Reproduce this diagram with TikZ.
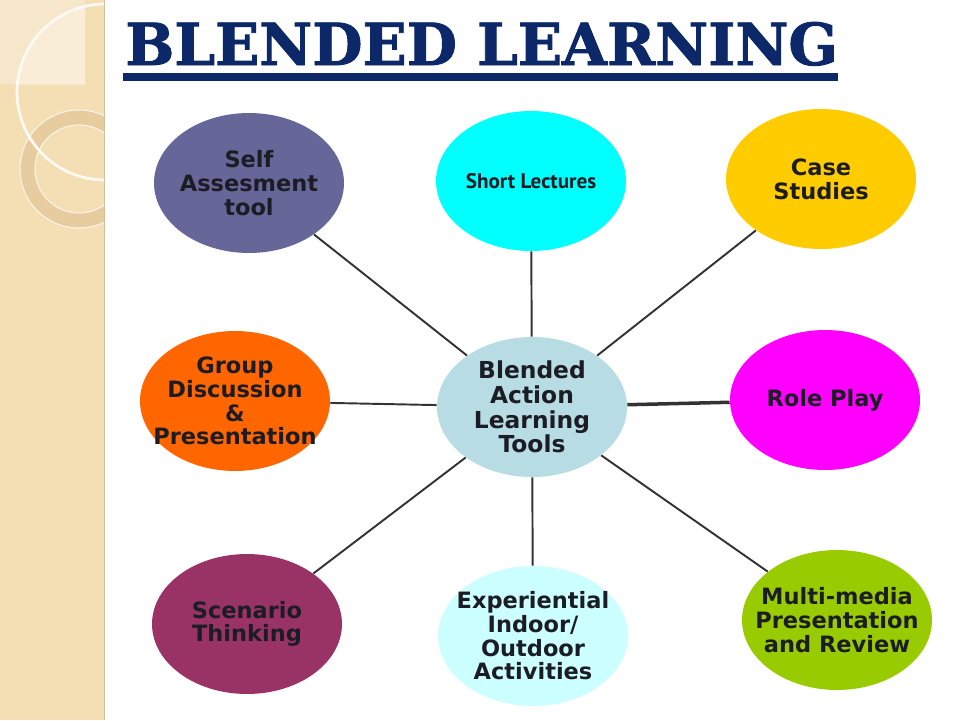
\documentclass[tikz,border=0pt]{standalone}
\usepackage{fontspec}
\setmainfont{DejaVu Sans}
\newfontfamily\titlefont[BoldFeatures={FakeBold=1.5}]{DejaVu Serif}
\newfontfamily\lecfont{PT Sans}
\usetikzlibrary{shapes.geometric}
\definecolor{strip}{HTML}{F4DEB4}
\definecolor{stripedge}{HTML}{CDBF9F}
\definecolor{ringcol}{HTML}{E6CC9E}
\definecolor{navy}{HTML}{0C2869}
\definecolor{ink}{HTML}{1C1C24}
\definecolor{linkgray}{HTML}{333333}
\definecolor{selfcol}{HTML}{666699}
\definecolor{shortcol}{HTML}{00FFFF}
\definecolor{casecol}{HTML}{FFCC00}
\definecolor{groupcol}{HTML}{FF6600}
\definecolor{hubcol}{HTML}{B7DCE3}
\definecolor{rolecol}{HTML}{FF00FF}
\definecolor{multicol}{HTML}{99CC00}
\definecolor{scencol}{HTML}{993366}
\definecolor{expcol}{HTML}{CCFFFF}
\begin{document}
\begin{tikzpicture}[x=0.02cm,y=-0.02cm,
  tool/.style={ellipse,minimum width=3.8cm,minimum height=2.8cm,inner sep=-1cm,
    align=center,text=ink,font=\bfseries\fontsize{12.8}{13.5}\selectfont},
  link/.style={draw=linkgray,line width=1.1pt}]
  \useasboundingbox[fill=white] (0,0) rectangle (960,720);
  % side strip
  \fill[strip] (0,0) rectangle (105,720);
  \fill[white,opacity=0.3] (0,0) rectangle (85,84);
  \begin{scope}
    \clip (0,0) rectangle (85,84);
    \fill[white,opacity=0.25] (105,92) circle (88);
  \end{scope}
  \begin{scope}
    \clip (0,0) rectangle (104,720);
    \draw[ringcol,line width=8.5pt] (79,169) circle (51.5);
    \draw[white!70!strip,line width=0.6pt] (79,169) circle (59) (79,169) circle (44);
    \draw[white!85!strip,line width=1.6pt] (105,92) circle (88);
  \end{scope}
  \draw[stripedge,line width=1pt] (104.5,0) -- (104.5,720);
  % title
  \node[anchor=base west,inner sep=0pt,text=navy,font=\titlefont\bfseries\fontsize{33}{36}\selectfont] (title) at (125,65) {BLENDED LEARNING};
  \draw[navy,line width=4pt] (123,77) -- (838,77);
  % tools
  \node[tool,fill=hubcol,font=\bfseries\fontsize{13.3}{14}\selectfont] (hub) at (532,407) {Blended\\Action\\Learning\\Tools};
  \node[tool,fill=selfcol] (self) at (249,183) {Self\\Assesment\\tool};
  \node[tool,fill=shortcol,font=\lecfont\bfseries\fontsize{12}{13}\selectfont] (short) at (531,181) {Short Lectures};
  \node[tool,fill=casecol] (case) at (821,179) {Case\\Studies};
  \node[tool,fill=groupcol] (group) at (235,401) {Group\\Discussion\\\&\\Presentation};
  \node[tool,fill=rolecol] (role) at (825,400) {Role Play};
  \node[tool,fill=scencol] (scen) at (247,624) {Scenario\\Thinking};
  \node[tool,fill=expcol] (exp) at (533,636) {Experiential\\Indoor/\\Outdoor\\Activities};
  \node[tool,fill=multicol] (multi) at (837,620) {Multi-media\\Presentation\\and Review};
  % links
  \draw[link] (hub) -- (self);
  \draw[link] (hub) -- (short);
  \draw[link] (hub) -- (case);
  \draw[link] (hub) -- (group);
  \draw[link,line width=2pt] (hub) -- (role);
  \draw[link] (hub) -- (scen);
  \draw[link] (hub) -- (exp);
  \draw[link] (hub) -- (multi);
\end{tikzpicture}
\end{document}
